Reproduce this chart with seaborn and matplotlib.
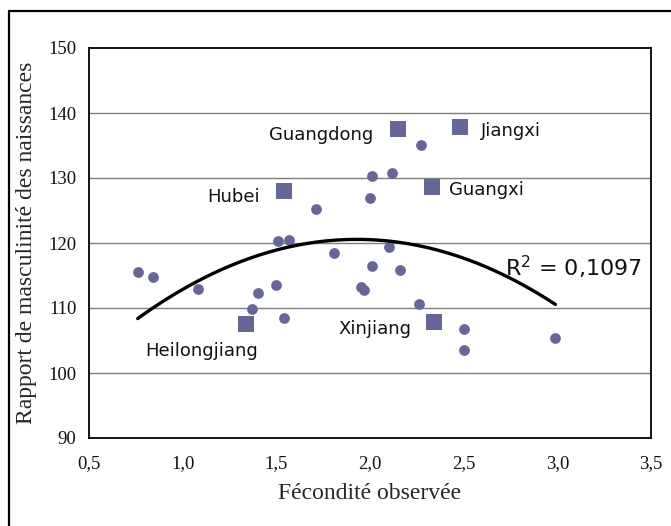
import numpy as np
import pandas as pd
import matplotlib
matplotlib.use("Agg")
import matplotlib.pyplot as plt
import seaborn as sns
from matplotlib.lines import Line2D

# -------------------------------------------------------------------------
# Données (fécondité, rapport de masculinité)
# -------------------------------------------------------------------------
fecondite = [0.76, 0.84, 1.08, 1.37, 1.40, 1.50, 1.51, 1.54, 1.57, 1.71,
             1.81, 1.95, 1.97, 2.00, 2.01, 2.01, 2.10, 2.12, 2.16, 2.26,
             2.27, 2.50, 2.50, 2.99]
masculinite = [115.6, 114.7, 113.0, 109.8, 112.3, 113.5, 120.3, 108.5, 120.4, 125.2,
               118.5, 113.2, 112.8, 127.0, 130.3, 116.5, 119.4, 130.8, 115.8, 110.6,
               135.1, 106.7, 103.5, 105.4]

provinces = ["Guangdong", "Jiangxi", "Hubei", "Guangxi", "Heilongjiang", "Xinjiang"]
fec_prov = [2.15, 2.48, 1.54, 2.33, 1.34, 2.34]
masc_prov = [137.6, 137.9, 128.0, 128.6, 107.5, 107.9]
# position des étiquettes (x, y, alignement)
lab_x = [2.02, 2.59, 1.41, 2.42, 0.80, 1.83]
lab_y = [136.6, 137.3, 127.1, 128.2, 103.4, 106.8]
lab_ha = ["right", "left", "right", "left", "left", "left"]

r2_text = "R$^2$ = 0,1097"

x_ticks = [0.5, 1.0, 1.5, 2.0, 2.5, 3.0, 3.5]
y_ticks = [90, 100, 110, 120, 130, 140, 150]

COL = "#666699"

df = pd.DataFrame({
    "fec": fecondite + fec_prov,
    "masc": masculinite + masc_prov,
    "kind": ["autre"] * len(fecondite) + ["nommee"] * len(fec_prov),
})

sns.set_style("white")
plt.rcParams["font.family"] = ["DejaVu Sans"]

fig = plt.figure(figsize=(6.71, 5.26), dpi=100)
fig.patch.set_linewidth(0)
ax = fig.add_axes([89 / 671, 1 - 438 / 526, (651 - 89) / 671, (438 - 48) / 526])

# grille horizontale
for yv in y_ticks[1:-1]:
    ax.axhline(yv, color="#7f7f7f", lw=1.0, zorder=0)

sns.scatterplot(data=df[df.kind == "autre"], x="fec", y="masc", ax=ax,
                color=COL, marker="o", s=60, linewidth=0, zorder=3, legend=False)
sns.scatterplot(data=df[df.kind == "nommee"], x="fec", y="masc", ax=ax,
                color=COL, marker="s", s=120, linewidth=0, zorder=3, legend=False)

# courbe de tendance polynomiale (ordre 2) sur tous les points
sns.regplot(data=df, x="fec", y="masc", order=2, ci=None, scatter=False,
            ax=ax, line_kws={"color": "black", "lw": 2.4, "zorder": 4})

for name, tx, ty, ha in zip(provinces, lab_x, lab_y, lab_ha):
    ax.text(tx, ty, name, ha=ha, va="center", fontsize=13, color="#111111",
            family="DejaVu Sans", zorder=5)
ax.text(2.72, 116.2, r2_text, ha="left", va="center", fontsize=16,
        color="#111111", zorder=5)

ax.set_xlim(0.5, 3.5)
ax.set_ylim(90, 150)
ax.set_xticks(x_ticks)
ax.set_xticklabels([f"{v:.1f}".replace(".", ",") for v in x_ticks])
ax.set_yticks(y_ticks)
ax.set_yticklabels([str(v) for v in y_ticks])

serif = ["Liberation Serif", "DejaVu Serif"]
for lab in ax.get_xticklabels() + ax.get_yticklabels():
    lab.set_family(serif)
    lab.set_fontsize(13.5)
ax.tick_params(axis="both", direction="out", length=5, width=1.0,
               color="black", pad=4, labelcolor="#111111")
ax.tick_params(axis="x", pad=7)

ax.set_xlabel("Fécondité observée", family=serif, fontsize=17, labelpad=8)
ax.set_ylabel("Rapport de masculinité des naissances", family=serif,
              fontsize=17, labelpad=8)

for sp in ax.spines.values():
    sp.set_color("black")
    sp.set_linewidth(1.3)

# cadre extérieur (seuls les bords gauche et haut sont visibles)
x0, y0 = 8.5 / 671, 1 - 11 / 526
fig.add_artist(Line2D([x0, x0], [0, y0], transform=fig.transFigure,
                      color="black", lw=1.6))
fig.add_artist(Line2D([x0, 1.01], [y0, y0], transform=fig.transFigure,
                      color="black", lw=1.6))

fig.savefig("out.png", dpi=100)
